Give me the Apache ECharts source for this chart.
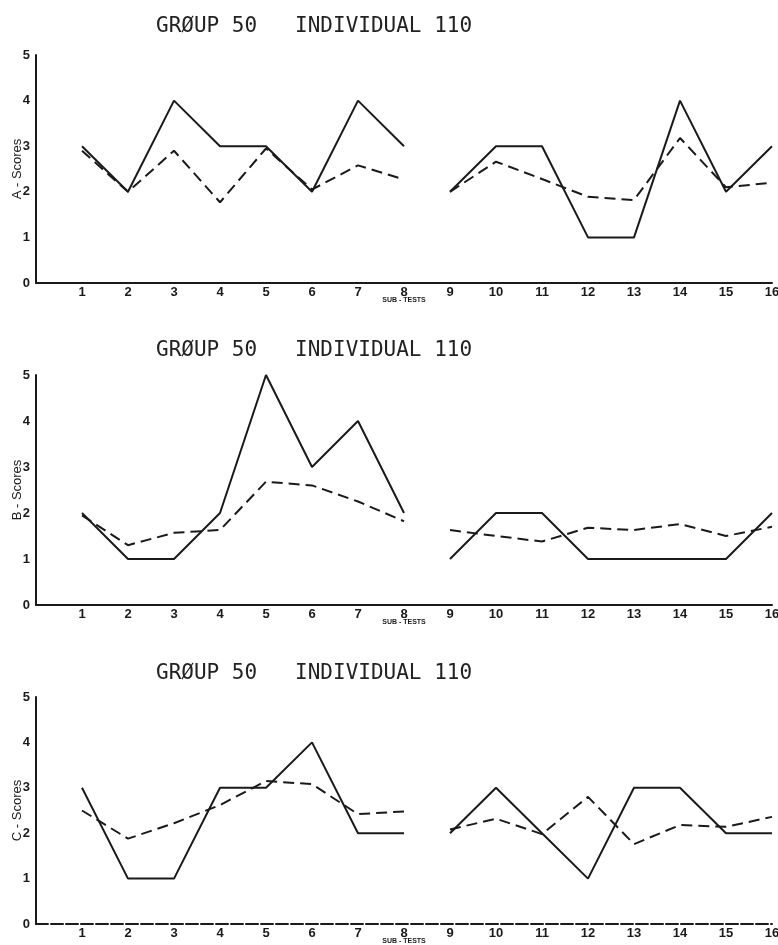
<!DOCTYPE html>
<html>
<head>
<meta charset="utf-8">
<script src="https://cdn.jsdelivr.net/npm/echarts@6/dist/echarts.min.js"></script>
<style>
  html, body { margin: 0; padding: 0; background: #fff; }
  #chart { width: 778px; height: 945px; }
</style>
</head>
<body>
<div id="chart"></div>
<script>
// three score profiles for one individual, 16 sub-tests, break between 8 and 9
const tests = [1, 2, 3, 4, 5, 6, 7, 8, 9, 10, 11, 12, 13, 14, 15, 16]
const yTicks = [0, 1, 2, 3, 4, 5]
const titleText = 'GRØUP 50   INDIVIDUAL 110'
const scoreNames = ['A - Scores', 'B - Scores', 'C - Scores']

// solid = individual, dashed = group mean
const aSolid  = [3, 2, 4, 3, 3, 2, 4, 3, 2, 3, 3, 1, 1, 4, 2, 3]
const aDashed = [2.9, 2.0, 2.9, 1.77, 2.95, 2.05, 2.58, 2.27, 2.0, 2.66, 2.28, 1.89, 1.82, 3.18, 2.1, 2.2]
const bSolid  = [2, 1, 1, 2, 5, 3, 4, 2, 1, 2, 2, 1, 1, 1, 1, 2]
const bDashed = [1.95, 1.3, 1.57, 1.63, 2.68, 2.6, 2.25, 1.82, 1.63, 1.5, 1.38, 1.68, 1.63, 1.76, 1.5, 1.7]
const cSolid  = [3, 1, 1, 3, 3, 4, 2, 2, 2, 3, 2, 1, 3, 3, 2, 2]
const cDashed = [2.5, 1.88, 2.22, 2.62, 3.15, 3.08, 2.42, 2.48, 2.08, 2.32, 1.98, 2.8, 1.76, 2.18, 2.14, 2.36]

const panels = [
  { solid: aSolid, dashed: aDashed, top: 55, height: 228, titleTop: 11 },
  { solid: bSolid, dashed: bDashed, top: 375, height: 230, titleTop: 335 },
  { solid: cSolid, dashed: cDashed, top: 697, height: 227, titleTop: 658 }
]

const ink = '#1a1a1a'
const tickFont = 'Liberation Sans Narrow, Liberation Sans, sans-serif'

// split a row of scores into the two halves (1-8, 9-16)
function halves(values) {
  const pts = tests.map((t, i) => [t, values[i]])
  return [pts.slice(0, 8), pts.slice(8)]
}

const chart = echarts.init(document.getElementById('chart'))

const grid = [], xAxis = [], yAxis = [], series = [], title = []
panels.forEach((p, k) => {
  grid.push({ left: 36, right: 6, top: p.top, height: p.height, outerBoundsMode: 'none', containLabel: false })
  title.push({
    text: titleText, left: 151, top: p.titleTop,
    textStyle: { fontFamily: 'DejaVu Sans Mono, monospace', fontSize: 21, fontWeight: 'normal', color: '#222' }
  })
  xAxis.push({
    gridIndex: k, type: 'value', min: 0, max: 16, interval: 1,
    name: 'SUB - TESTS', nameLocation: 'middle', nameGap: 14, nameMoveOverlap: false,
    nameTextStyle: { fontSize: 7, fontWeight: 'bold', color: ink, fontFamily: tickFont },
    axisLine: { lineStyle: { color: ink, width: 2, type: k === 2 ? [12, 3] : 'solid' } },
    axisTick: { show: false },
    splitLine: { show: false },
    axisLabel: {
      margin: 3, color: ink, fontSize: 13, fontWeight: 'bold', fontFamily: tickFont,
      formatter: v => (v === 0 ? '' : String(v))
    }
  })
  yAxis.push({
    gridIndex: k, type: 'value', min: 0, max: 5, interval: 1,
    name: scoreNames[k], nameLocation: 'middle', nameGap: 12, nameRotate: 90, nameMoveOverlap: false,
    nameTextStyle: { fontSize: 13, color: ink, fontFamily: 'Liberation Sans, sans-serif' },
    axisLine: { show: true, lineStyle: { color: ink, width: 2 } },
    axisTick: { show: false },
    splitLine: { show: false },
    axisLabel: {
      margin: 6, color: ink, fontSize: 13, fontWeight: 'bold', fontFamily: tickFont,
      formatter: v => String(yTicks[v])
    }
  })
  halves(p.solid).forEach(d => series.push({
    type: 'line', xAxisIndex: k, yAxisIndex: k, data: d, symbol: 'none', silent: true,
    lineStyle: { color: ink, width: 2 }
  }))
  halves(p.dashed).forEach(d => series.push({
    type: 'line', xAxisIndex: k, yAxisIndex: k, data: d, symbol: 'none', silent: true,
    lineStyle: { color: ink, width: 2, type: [11, 6] }
  }))
})

chart.setOption({
  backgroundColor: '#fff',
  animation: false,
  title, grid, xAxis, yAxis, series
})
</script>
</body>
</html>
